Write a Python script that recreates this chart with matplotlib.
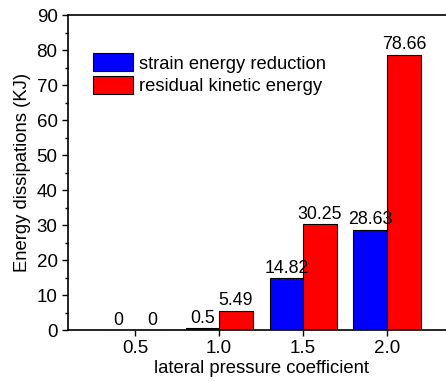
import numpy as np
import matplotlib.pyplot as plt
from matplotlib.ticker import MultipleLocator

# pressure coefficients and dissipated energies
coeffs = [0.5, 1.0, 1.5, 2.0]
strain = [0, 0.5, 14.82, 28.63]
kinetic = [0, 5.49, 30.25, 78.66]
labels = ['strain energy reduction', 'residual kinetic energy']

plt.rcParams['font.family'] = ['Liberation Sans', 'DejaVu Sans']
fig = plt.figure(figsize=(4.46, 3.82), dpi=100)
ax = fig.add_axes([0.1525, 0.136, 0.866, 0.8246])

x = np.array(coeffs)
w = 0.2
b1 = ax.bar(x - w / 2, strain, w, color='#0000ff', edgecolor='black', linewidth=0.8, label=labels[0])
b2 = ax.bar(x + w / 2, kinetic, w, color='#ff0000', edgecolor='black', linewidth=0.8, label=labels[1])

for bars, vals in ((b1, strain), (b2, kinetic)):
    for r, v in zip(bars, vals):
        ax.text(r.get_x() + r.get_width() / 2, v + 0.4, '%g' % v,
                ha='center', va='bottom', fontsize=12.8)

ax.set_xlim(0.1, 2.4)
ax.set_ylim(0, 90)
ax.set_xticks(coeffs)
ax.set_xticklabels(['0.5', '1.0', '1.5', '2.0'])
ax.yaxis.set_major_locator(MultipleLocator(10))
ax.yaxis.set_minor_locator(MultipleLocator(5))
ax.tick_params(axis='both', direction='out', labelsize=13.5, length=4, width=1)
ax.tick_params(axis='y', which='minor', direction='out', length=2.5, width=1)
for s in ax.spines.values():
    s.set_linewidth(1.2)

ax.set_xlabel('lateral pressure coefficient', fontsize=13.3, labelpad=2)
ax.set_ylabel('Energy dissipations (KJ)', fontsize=13.3, labelpad=4)

ax.legend(loc='upper left', bbox_to_anchor=(0.065, 0.878), frameon=False, fontsize=13.2,
          handlelength=2.2, handleheight=1.1, handletextpad=0.28, labelspacing=0.2,
          borderaxespad=0, borderpad=0)

fig.savefig('out.png', dpi=100)
